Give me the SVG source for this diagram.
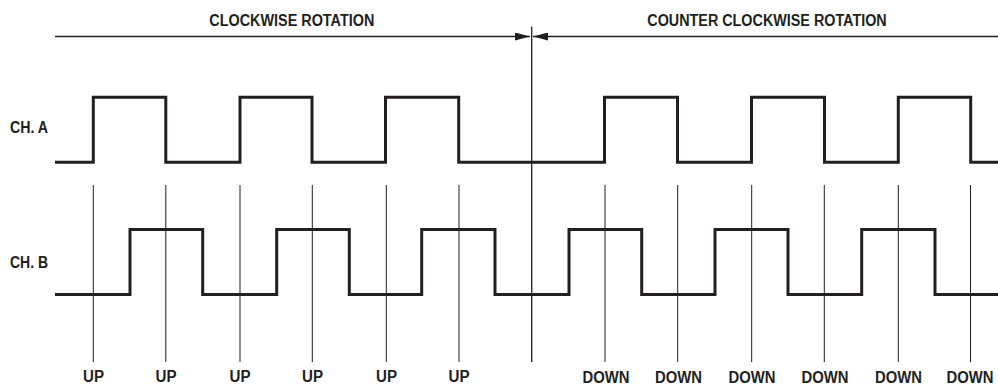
<svg xmlns="http://www.w3.org/2000/svg" width="998" height="388" viewBox="0 0 998 388">
<style>
.t{font-family:"Liberation Sans",Arial,sans-serif;font-weight:bold;font-size:16px;fill:#231f20}
.m{text-anchor:middle}
.w{fill:none;stroke:#231f20;stroke-width:3;stroke-linejoin:miter}
.g{stroke:#231f20;stroke-width:1}
.ax{stroke:#231f20;stroke-width:1.5;fill:none}
</style>
<defs>
<marker id="ah" viewBox="0 0 15 8" refX="15" refY="4" markerWidth="15" markerHeight="8" markerUnits="userSpaceOnUse" orient="auto">
<path d="M0,0 L15,4 L0,8 Z" fill="#231f20"/>
</marker>
</defs>
<rect width="998" height="388" fill="#fff"/>
<g id="titles">
<text class="t" x="209.3" y="26" textLength="165" lengthAdjust="spacingAndGlyphs">CLOCKWISE ROTATION</text>
<text class="t" x="647.3" y="26" textLength="239.4" lengthAdjust="spacingAndGlyphs">COUNTER CLOCKWISE ROTATION</text>
</g>
<g id="connectors">
<line class="ax" x1="55" y1="36.5" x2="530" y2="36.5" marker-end="url(#ah)"/>
<line class="ax" x1="998" y1="36.5" x2="533" y2="36.5" marker-end="url(#ah)"/>
<line x1="531.7" y1="26.5" x2="531.7" y2="362" stroke="#231f20" stroke-width="1.3"/>
<g class="g">
<line x1="93.3" y1="185" x2="93.3" y2="362"/>
<line x1="165.8" y1="185" x2="165.8" y2="362"/>
<line x1="240" y1="185" x2="240" y2="362"/>
<line x1="312.3" y1="185" x2="312.3" y2="362"/>
<line x1="386.3" y1="185" x2="386.3" y2="362"/>
<line x1="459" y1="185" x2="459" y2="362"/>
<line x1="605" y1="185" x2="605" y2="362"/>
<line x1="677.7" y1="185" x2="677.7" y2="362"/>
<line x1="751.7" y1="185" x2="751.7" y2="362"/>
<line x1="824.3" y1="185" x2="824.3" y2="362"/>
<line x1="898.3" y1="185" x2="898.3" y2="362"/>
<line x1="970.5" y1="185" x2="970.5" y2="362"/>
</g>
</g>
<g id="chA">
<text class="t" x="10" y="132.7" textLength="38" lengthAdjust="spacingAndGlyphs">CH. A</text>
<path class="w" d="M55,162.3 H93.3 V97.3 H165.8 V162.3 H240 V97.3 H312 V162.3 H385.5 V97.3 H458.7 V162.3 H604.5 V97.3 H677.5 V162.3 H751.5 V97.3 H824.5 V162.3 H898.3 V97.3 H970.7 V162.3 H998"/>
</g>
<g id="chB">
<text class="t" x="10" y="268.3" textLength="38" lengthAdjust="spacingAndGlyphs">CH. B</text>
<path class="w" d="M55,294.5 H130 V229.5 H202.7 V294.5 H276.7 V229.5 H349.3 V294.5 H421.7 V229.5 H495 V294.5 H569 V229.5 H641.7 V294.5 H715 V229.5 H788 V294.5 H861.7 V229.5 H935 V294.5 H998"/>
</g>
<g id="labels">
<text class="t m" x="93.5" y="382" textLength="21" lengthAdjust="spacingAndGlyphs">UP</text>
<text class="t m" x="166" y="382" textLength="21" lengthAdjust="spacingAndGlyphs">UP</text>
<text class="t m" x="240" y="382" textLength="21" lengthAdjust="spacingAndGlyphs">UP</text>
<text class="t m" x="312.5" y="382" textLength="21" lengthAdjust="spacingAndGlyphs">UP</text>
<text class="t m" x="386.5" y="382" textLength="21" lengthAdjust="spacingAndGlyphs">UP</text>
<text class="t m" x="459" y="382" textLength="21" lengthAdjust="spacingAndGlyphs">UP</text>
<text class="t m" x="606" y="382.5" textLength="47" lengthAdjust="spacingAndGlyphs">DOWN</text>
<text class="t m" x="678.5" y="382.5" textLength="47" lengthAdjust="spacingAndGlyphs">DOWN</text>
<text class="t m" x="752" y="382.5" textLength="47" lengthAdjust="spacingAndGlyphs">DOWN</text>
<text class="t m" x="825" y="382.5" textLength="47" lengthAdjust="spacingAndGlyphs">DOWN</text>
<text class="t m" x="898.5" y="382.5" textLength="47" lengthAdjust="spacingAndGlyphs">DOWN</text>
<text class="t m" x="970" y="382.5" textLength="47" lengthAdjust="spacingAndGlyphs">DOWN</text>
</g>
</svg>
